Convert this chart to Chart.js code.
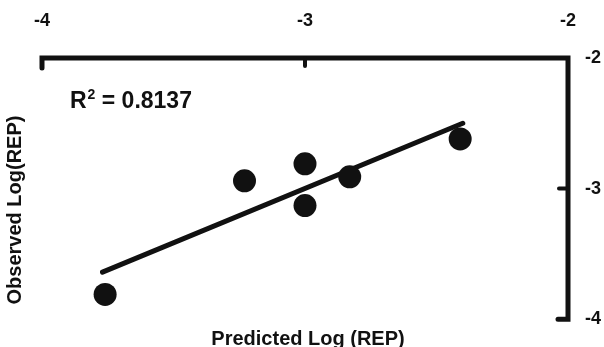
<!DOCTYPE html>
<html>
<head>
<meta charset="utf-8">
<script src="https://cdn.jsdelivr.net/npm/chart.js@4/dist/chart.umd.min.js"></script>
<style>
  html, body { margin: 0; padding: 0; background: #fff; }
  #wrap { width: 604px; height: 347px; }
</style>
</head>
<body>
<div id="wrap"><canvas id="grafikREP"></canvas></div>
<script>
// data
const predicted = [-3.76, -3.23, -3.00, -3.00, -2.83, -2.41];
const observed = [-3.81, -2.94, -2.81, -3.13, -2.91, -2.62];
const fitX = [-3.77, -2.40];
const fitY = [-3.64, -2.50];
const xTicks = [-4, -3, -2];
const yTicks = [-2, -3, -4];
const rSquared = '0.8137';

const ink = '#111';
const fontFam = '"Liberation Sans", Arial, sans-serif';

// axis lines with inward ticks, plus the titles and R2 text
const axesPlugin = {
    id: 'axesPlugin',
    afterDatasetsDraw(chart) {
        const ctx = chart.ctx;
        const xs = chart.scales.x;
        const ys = chart.scales.y;
        const top = ys.getPixelForValue(-2);
        const bottom = ys.getPixelForValue(-4);
        const left = xs.getPixelForValue(-4);
        const right = xs.getPixelForValue(-2);

        ctx.save();
        ctx.strokeStyle = ink;
        ctx.lineWidth = 5;
        ctx.lineCap = 'round';
        ctx.lineJoin = 'miter';
        ctx.beginPath();
        ctx.moveTo(left, top + 10);
        ctx.lineTo(left, top);
        ctx.lineTo(right, top);
        ctx.lineTo(right, bottom);
        ctx.lineTo(right - 10, bottom);
        ctx.stroke();

        ctx.lineWidth = 4;
        ctx.beginPath();
        const xm = xs.getPixelForValue(-3);
        ctx.moveTo(xm, top);
        ctx.lineTo(xm, top + 8);
        const ym = ys.getPixelForValue(-3);
        ctx.moveTo(right, ym);
        ctx.lineTo(right - 9, ym);
        ctx.stroke();

        ctx.fillStyle = ink;
        ctx.font = 'bold 20px ' + fontFam;
        ctx.textAlign = 'center';
        ctx.textBaseline = 'alphabetic';
        ctx.fillText('Predicted Log (REP)', (left + right) / 2 + 3, 345);

        ctx.save();
        ctx.translate(21, 210);
        ctx.rotate(-Math.PI / 2);
        ctx.fillText('Observed Log(REP)', 0, 0);
        ctx.restore();

        ctx.textAlign = 'left';
        ctx.font = 'bold 23px ' + fontFam;
        let tx = 70;
        ctx.fillText('R', tx, 108);
        tx += ctx.measureText('R').width;
        ctx.font = 'bold 14px ' + fontFam;
        ctx.fillText('2', tx + 1, 99);
        tx += ctx.measureText('2').width + 1;
        ctx.font = 'bold 23px ' + fontFam;
        ctx.fillText(' = ' + rSquared, tx, 108);
        ctx.restore();
    }
};

const ctx = document.getElementById('grafikREP').getContext('2d');
new Chart(ctx, {
    type: 'scatter',
    data: {
        datasets: [{
            label: 'Observed',
            data: predicted.map((v, i) => ({ x: v, y: observed[i] })),
            backgroundColor: ink,
            borderWidth: 0,
            pointRadius: 11.5,
            pointHoverRadius: 11.5,
            order: 0
        }, {
            type: 'line',
            label: 'Fit',
            data: fitX.map((v, i) => ({ x: v, y: fitY[i] })),
            borderColor: ink,
            borderWidth: 5,
            borderCapStyle: 'round',
            pointRadius: 0,
            fill: false,
            order: 1
        }]
    },
    options: {
        responsive: true,
        maintainAspectRatio: false,
        animation: false,
        layout: { padding: { left: 42, top: 0, right: 0, bottom: 26 } },
        plugins: {
            legend: { display: false },
            tooltip: { enabled: false }
        },
        scales: {
            x: {
                type: 'linear',
                position: 'top',
                min: -4,
                max: -2,
                afterFit(scale) { scale.height = 58; },
                afterBuildTicks(scale) { scale.ticks = xTicks.map(v => ({ value: v })); },
                grid: { display: false, drawTicks: false },
                border: { display: false },
                ticks: {
                    padding: 26,
                    color: ink,
                    font: { family: fontFam, size: 18, weight: 'bold' }
                }
            },
            y: {
                type: 'linear',
                position: 'right',
                min: -4,
                max: -2,
                afterFit(scale) { scale.width = 36; },
                afterBuildTicks(scale) { scale.ticks = yTicks.map(v => ({ value: v })); },
                grid: { display: false, drawTicks: false },
                border: { display: false },
                ticks: {
                    padding: 17,
                    color: ink,
                    font: { family: fontFam, size: 18, weight: 'bold' }
                }
            }
        }
    },
    plugins: [axesPlugin]
});
</script>
</body>
</html>
